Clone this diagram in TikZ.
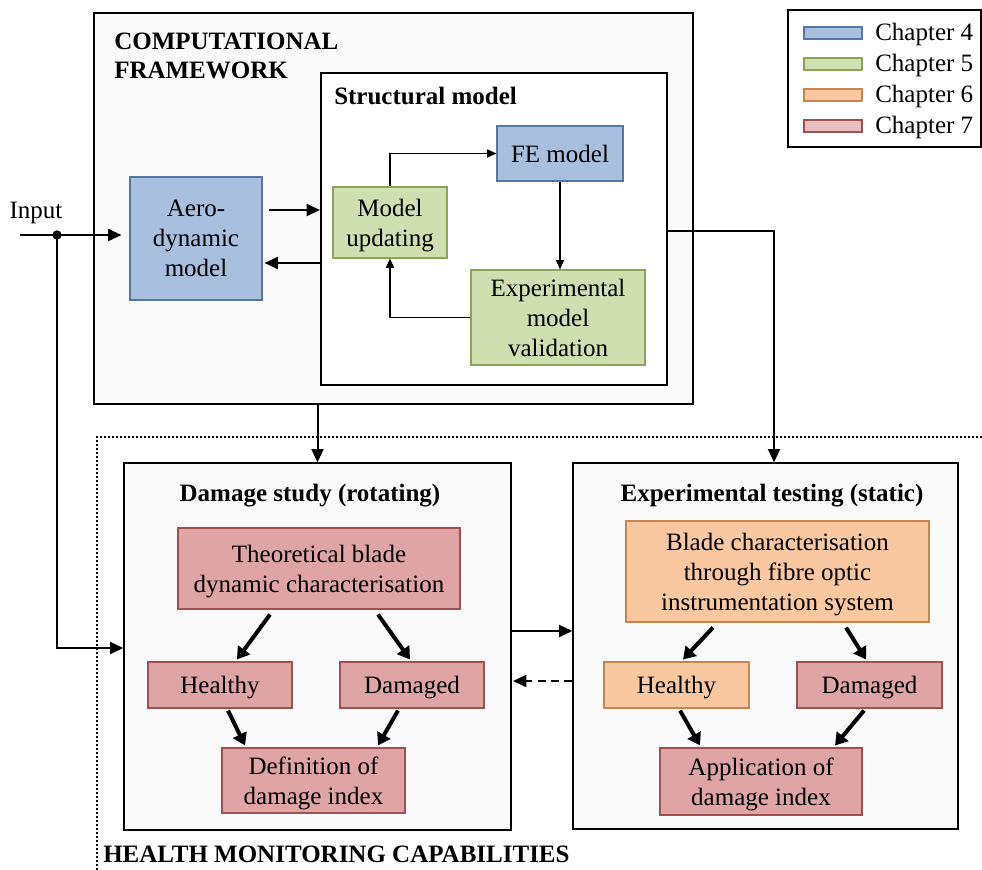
\documentclass[tikz,border=0pt]{standalone}
\usepackage{fontspec}
\setmainfont{Liberation Serif}
\usetikzlibrary{arrows.meta,calc}
\definecolor{bfill}{HTML}{A8C0DE}\definecolor{bdraw}{HTML}{5577A8}
\definecolor{gfill}{HTML}{D0DFB0}\definecolor{gdraw}{HTML}{8BA458}
\definecolor{ofill}{HTML}{F9C8A0}\definecolor{odraw}{HTML}{C8864E}
\definecolor{rfill}{HTML}{DFA5A4}\definecolor{rdraw}{HTML}{A0504E}
\definecolor{lrfill}{HTML}{E8BFBF}
\definecolor{panel}{HTML}{FAFAFA}
\begin{document}
\begin{tikzpicture}[x=0.75pt,y=-0.75pt,
  txt/.style={font=\fontsize{18.75}{22.5}\selectfont},
  ttl/.style={font=\fontsize{18.75}{22.5}\selectfont\bfseries, inner sep=0pt},
  cbox/.style={draw, rectangle, inner sep=2pt, align=center, line width=0.8pt, txt, text depth=0pt},
  bluebox/.style={cbox, fill=bfill, draw=bdraw},
  greenbox/.style={cbox, fill=gfill, draw=gdraw},
  orangebox/.style={cbox, fill=ofill, draw=odraw},
  redbox/.style={cbox, fill=rfill, draw=rdraw},
  panelbox/.style={draw, rectangle, fill=panel, line width=1pt, inner sep=0pt},
  arr/.style={line width=1.5pt, -{Triangle[length=10pt,width=9pt]}},
  tarr/.style={line width=1.2pt, -{Triangle[length=7pt,width=6pt]}},
  tk/.style={line width=3pt, -{Triangle[length=9pt,width=11pt]}},
  swatch/.style={draw, rectangle, line width=0.8pt, minimum width=43.5pt, minimum height=9pt, inner sep=0pt}
]
\useasboundingbox (0,0) rectangle (982,870);

% panels
\node[panelbox, minimum width=449.25pt, minimum height=293.25pt] (comp) at (393.5,208.5) {};
\node[draw, fill=white, line width=1.6pt, minimum width=259.5pt, minimum height=234pt, inner sep=0pt] (struct) at (494,229) {};
\node[draw, fill=white, line width=1pt, minimum width=144.75pt, minimum height=102.75pt, inner sep=0pt] (legend) at (884.5,78.5) {};

\draw[line width=1.5pt, dash pattern=on 1.5pt off 1.5pt] (97,870) -- (97,437) -- (982,437);

\node[panelbox, minimum width=290.25pt, minimum height=275.25pt] (dmg) at (317.5,646.5) {};
\node[panelbox, minimum width=288.75pt, minimum height=274.5pt] (exp) at (765.5,646) {};

% titles
\node[ttl, anchor=base west] (t1) at (114,50) {COMPUTATIONAL};
\node[ttl, anchor=base west] (t2) at (114,79) {FRAMEWORK};
\node[ttl, anchor=base west] (t3) at (334,105) {Structural model};
\node[ttl, anchor=base] (t4) at (310,501) {Damage study (rotating)};
\node[ttl, anchor=base] (t5) at (772,501) {Experimental testing (static)};
\node[ttl, anchor=base west] (t6) at (103,862) {HEALTH MONITORING CAPABILITIES};
\node[txt, anchor=base, inner sep=0pt] (inp) at (36,219) {Input};

% legend
\node[swatch, fill=bfill, draw=bdraw] (s4) at (833,33) {};
\node[swatch, fill=gfill, draw=gdraw] (s5) at (833,64) {};
\node[swatch, fill=ofill, draw=odraw] (s6) at (833,95) {};
\node[swatch, fill=lrfill, draw=rdraw] (s7) at (833,126) {};
\node[txt, anchor=base west, inner sep=0pt] (l4) at (875,41) {Chapter 4};
\node[txt, anchor=base west, inner sep=0pt] (l5) at (875,72) {Chapter 5};
\node[txt, anchor=base west, inner sep=0pt] (l6) at (875,103) {Chapter 6};
\node[txt, anchor=base west, inner sep=0pt] (l7) at (875,134) {Chapter 7};

% computational boxes
\node[bluebox, minimum width=99pt, minimum height=92.25pt] (aero) at (196,238.5) {Aero-\\dynamic\\model};
\node[greenbox, minimum width=85.5pt, minimum height=53.25pt] (mu) at (390,222.5) {Model\\updating};
\node[bluebox, minimum width=94.5pt, minimum height=41.25pt] (fe) at (560,153.5) {FE model};
\node[greenbox, minimum width=130.5pt, minimum height=71.25pt] (emv) at (558,317.5) {Experimental\\model\\validation};

% damage study
\node[redbox, minimum width=211.5pt, minimum height=60.75pt] (theo) at (319,568.5) {Theoretical blade\\dynamic characterisation};
\node[redbox, minimum width=108pt, minimum height=34.5pt] (h1) at (220,685) {Healthy};
\node[redbox, minimum width=108pt, minimum height=34.5pt] (d1) at (412,685) {Damaged};
\node[redbox, minimum width=137.25pt, minimum height=48.75pt] (def) at (313.5,780.5) {Definition of\\damage index};

% experimental testing
\node[orangebox, minimum width=227.25pt, minimum height=75.75pt] (blade) at (777.5,571.5) {Blade characterisation\\through fibre optic\\instrumentation system};
\node[orangebox, minimum width=108.75pt, minimum height=34.5pt] (h2) at (676.5,685) {Healthy};
\node[redbox, minimum width=108.75pt, minimum height=34.5pt] (d2) at (869.5,685) {Damaged};
\node[redbox, minimum width=151.5pt, minimum height=50.25pt] (app) at (761,781.5) {Application of\\damage index};

% input connectors
\coordinate (inS) at (20,235);
\coordinate (jn) at (57,235);
\draw[arr, shorten >=6pt] (inS) -- (inS -| aero.west);
\fill (jn) circle (3.5pt);
\draw[arr] (jn) |- (dmg.west |- 0,648);

% computational connectors
\draw[arr, shorten <=4.5pt] (aero.east |- 0,210) -- (struct.west |- 0,210);
\draw[arr, shorten >=1.5pt] (struct.west |- 0,263) -- (aero.east |- 0,263);
\draw[tarr] (mu.north) |- (fe.west);
\draw[tarr] (fe.south) -- (fe.south |- emv.north);
\draw[tarr] (emv.west) -| (mu.south);
\coordinate (k1) at (774,231);
\draw[arr] (struct.east |- k1) -- (k1) -- (k1 |- exp.north);
\draw[arr] (comp.south -| dmg.north) -- (dmg.north);

% between panels
\draw[arr] (dmg.east |- 0,631) -- (exp.west |- 0,631);
\draw[arr, dash pattern=on 6pt off 4pt, shorten >=1pt] (exp.west |- 0,681) -- (dmg.east |- 0,681);

% thick arrows
\draw[tk] ($(theo.south)+(-49,5)$) -- ($(h1.north)+(17,-2)$);
\draw[tk] ($(theo.south)+(59,5)$) -- ($(d1.north)+(-2,-2)$);
\draw[tk] ($(h1.south)+(8,2)$) -- ($(def.north)+(-68.5,-2)$);
\draw[tk] ($(d1.south)+(-14,2)$) -- ($(def.north)+(64.5,-2)$);
\draw[tk] ($(blade.south)+(-64.5,5)$) -- ($(h2.north)+(6.5,-2)$);
\draw[tk] ($(blade.south)+(68.5,5)$) -- ($(d2.north)+(-3.5,-2)$);
\draw[tk] ($(h2.south)+(3.5,2)$) -- ($(app.north)+(-61,-2)$);
\draw[tk] ($(d2.south)+(-5.5,2)$) -- ($(app.north)+(74,-2)$);
\end{tikzpicture}
\end{document}
